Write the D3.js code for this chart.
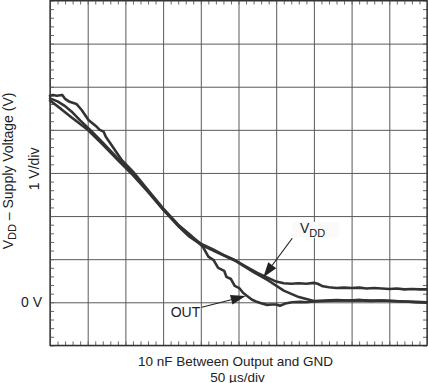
<!DOCTYPE html>
<html>
<head>
<meta charset="utf-8">
<script src="https://cdn.jsdelivr.net/npm/d3@7"></script>
<style>
  html, body { margin: 0; padding: 0; background: #fff; }
  svg { display: block; font-family: "Liberation Sans", Arial, sans-serif; }
</style>
</head>
<body>
<svg id="chart" width="428" height="383"></svg>
<script>
// ---- data (time in µs, voltage in V) ----
const xDomain = [0, 500];          // 10 div x 50 µs/div
const yDomain = [-1, 7];           // 8 div x 1 V/div
const xMajorTicks = [0, 50, 100, 150, 200, 250, 300, 350, 400, 450, 500];
const yMajorTicks = [-1, 0, 1, 2, 3, 4, 5, 6, 7];
const yTickLabels = [{ v: 0, text: "0 V" }];

// smooth trace that ramps to 0 V
const traceA_t = [0, 15, 30, 50, 70, 90, 110, 130, 150, 170, 185, 200, 220, 245, 270, 290, 310, 330, 350, 365, 380, 395, 410, 425, 440, 455, 470, 485, 500];
const traceA_v = [4.68, 4.48, 4.27, 4.00, 3.66, 3.30, 2.95, 2.56, 2.15, 1.77, 1.52, 1.34, 1.17, 0.97, 0.70, 0.50, 0.27, 0.12, 0.03, 0.04, 0.05, 0.04, 0.05, 0.04, 0.04, 0.03, 0.02, 0.01, 0.00];

// VDD trace
const vdd_t = [0, 10, 20, 30, 40, 55, 70, 90, 110, 130, 150, 170, 185, 200, 215, 230, 245, 260, 275, 290, 300, 310, 320, 330, 340, 350, 355, 362, 370, 380, 390, 400, 410, 420, 430, 440, 450, 460, 470, 480, 490, 500];
const vdd_v = [4.73, 4.66, 4.55, 4.40, 4.22, 3.97, 3.70, 3.33, 2.97, 2.58, 2.16, 1.78, 1.55, 1.36, 1.24, 1.10, 0.98, 0.83, 0.68, 0.56, 0.48, 0.44, 0.43, 0.44, 0.43, 0.45, 0.43, 0.37, 0.35, 0.33, 0.34, 0.33, 0.34, 0.32, 0.33, 0.32, 0.31, 0.32, 0.30, 0.31, 0.30, 0.30];

// OUT trace
const out_t = [0, 4, 9, 16, 20, 26, 35, 42, 51, 62, 66, 71, 74, 80, 95, 110, 130, 150, 170, 185, 195, 203, 210, 217, 223, 231, 234, 240, 245, 251, 256, 261, 268, 273, 281, 288, 294, 300, 305, 312, 321, 332, 340, 350, 365, 380, 395, 410, 425, 440, 455, 470, 485, 500];
const out_v = [4.79, 4.81, 4.79, 4.81, 4.72, 4.65, 4.60, 4.46, 4.23, 4.07, 4.00, 3.96, 3.84, 3.69, 3.30, 3.03, 2.60, 2.18, 1.80, 1.58, 1.42, 1.28, 1.06, 0.98, 0.80, 0.73, 0.59, 0.54, 0.38, 0.33, 0.22, 0.15, 0.06, 0.02, -0.03, -0.06, -0.05, -0.05, -0.08, -0.03, 0.00, 0.01, 0.00, 0.02, 0.03, 0.04, 0.04, 0.05, 0.03, 0.04, 0.03, 0.02, 0.00, -0.01];

// annotations (data units)
const annVDD = { label: "V", sub: "DD", t: 331.6, v: 1.60, from: [321.3, 1.485], to: [282.9, 0.58] };
const annOUT = { label: "OUT", t: 160.1, v: -0.34, from: [201.2, -0.116], to: [259.6, 0.146] };

const yTitleMain = "V", yTitleSub = "DD", yTitleRest = " – Supply Voltage (V)";
const yTitle2 = "1 V/div";
const xTitle1 = "10 nF Between Output and GND";
const xTitle2 = "50 µs/div";

// ---- layout ----
const svg = d3.select("#chart");
const L = 50, R = 427, T = 0.5, B = 345.4;
const x = d3.scaleLinear().domain(xDomain).range([L, R]);
const y = d3.scaleLinear().domain(yDomain).range([B, T]);

const minorX = d3.range(xDomain[0], xDomain[1] + 0.001, 10);
const minorY = d3.range(yDomain[0], yDomain[1] + 0.001, 0.2).map(d => +d.toFixed(2));

// gridlines
const gridColor = "#5a5a5a";
svg.append("g").attr("transform", `translate(0,${B})`)
  .call(d3.axisBottom(x).tickValues(xMajorTicks).tickSize(-(B - T)).tickFormat(""))
  .call(g => g.select(".domain").remove())
  .call(g => g.selectAll("line").attr("stroke", gridColor).attr("stroke-width", 1));
svg.append("g").attr("transform", `translate(${L},0)`)
  .call(d3.axisLeft(y).tickValues(yMajorTicks).tickSize(-(R - L)).tickFormat(""))
  .call(g => g.select(".domain").remove())
  .call(g => g.selectAll("line").attr("stroke", gridColor).attr("stroke-width", 1));

// minor ticks on all four sides (inward)
const tickColor = "#666", tl = 4;
function styleTicks(g) {
  g.select(".domain").remove();
  g.selectAll("line").attr("stroke", tickColor).attr("stroke-width", 1);
}
svg.append("g").attr("transform", `translate(0,${B})`)
  .call(d3.axisBottom(x).tickValues(minorX).tickSize(-tl).tickFormat("")).call(styleTicks);
svg.append("g").attr("transform", `translate(0,${T})`)
  .call(d3.axisTop(x).tickValues(minorX).tickSize(-tl).tickFormat("")).call(styleTicks);
svg.append("g").attr("transform", `translate(${L},0)`)
  .call(d3.axisLeft(y).tickValues(minorY).tickSize(-tl).tickFormat("")).call(styleTicks);
svg.append("g").attr("transform", `translate(${R},0)`)
  .call(d3.axisRight(y).tickValues(minorY).tickSize(-tl).tickFormat("")).call(styleTicks);

// frame
svg.append("rect").attr("x", L).attr("y", T).attr("width", R - L).attr("height", B - T)
  .attr("fill", "none").attr("stroke", "#333").attr("stroke-width", 1.3);

// y tick labels
svg.selectAll(".ylab").data(yTickLabels).join("text")
  .attr("x", L - 8).attr("y", d => y(d.v)).attr("dy", "0.36em")
  .attr("text-anchor", "end").attr("font-size", 14).attr("fill", "#222")
  .text(d => d.text);

// traces
const line = d3.line().x(d => x(d[0])).y(d => y(d[1]));
const traces = [
  d3.zip(traceA_t, traceA_v),
  d3.zip(vdd_t, vdd_v),
  d3.zip(out_t, out_v)
];
svg.append("g").selectAll("path").data(traces).join("path")
  .attr("d", line).attr("fill", "none").attr("stroke", "#333")
  .attr("stroke-width", 2.6).attr("stroke-linejoin", "round").attr("stroke-linecap", "round");

// arrows
function arrow(from, to) {
  const x1 = x(from[0]), y1 = y(from[1]), x2 = x(to[0]), y2 = y(to[1]);
  const ang = Math.atan2(y2 - y1, x2 - x1);
  const len = 15, hw = 5;
  const bx = x2 - len * Math.cos(ang), by = y2 - len * Math.sin(ang);
  svg.append("line").attr("x1", x1).attr("y1", y1).attr("x2", bx).attr("y2", by)
    .attr("stroke", "#222").attr("stroke-width", 1.2);
  const px = -Math.sin(ang) * hw, py = Math.cos(ang) * hw;
  svg.append("path")
    .attr("d", `M${x2},${y2}L${bx + px},${by + py}L${bx - px},${by - py}Z`)
    .attr("fill", "#222");
}

// VDD label with light box
const vx = x(annVDD.t), vy = y(annVDD.v);
svg.append("rect").attr("x", vx - 8).attr("y", vy - 11.5).attr("width", 47).attr("height", 16)
  .attr("fill", "#fafafa");
const vt = svg.append("text").attr("x", vx).attr("y", vy).attr("font-size", 14).attr("fill", "#222");
vt.append("tspan").text(annVDD.label);
vt.append("tspan").attr("font-size", 11).attr("dy", 3.4).text(annVDD.sub);
arrow(annVDD.from, annVDD.to);

svg.append("text").attr("x", x(annOUT.t)).attr("y", y(annOUT.v))
  .attr("font-size", 14).attr("fill", "#222").text(annOUT.label);
arrow(annOUT.from, annOUT.to);

// y-axis titles (rotated)
const yt = svg.append("text")
  .attr("transform", `translate(12.5,${(T + B) / 2 - 2}) rotate(-90)`)
  .attr("text-anchor", "middle").attr("font-size", 14).attr("fill", "#222");
yt.append("tspan").text(yTitleMain);
yt.append("tspan").attr("font-size", 11).attr("dy", 3.4).text(yTitleSub);
yt.append("tspan").attr("dy", -3.4).text(yTitleRest);

svg.append("text")
  .attr("transform", `translate(39,${(T + B) / 2 - 4}) rotate(-90)`)
  .attr("text-anchor", "middle").attr("font-size", 14).attr("fill", "#222")
  .text(yTitle2);

// x-axis titles
svg.append("text").attr("x", (L + R) / 2 - 3).attr("y", 365.5)
  .attr("text-anchor", "middle").attr("font-size", 13.5).attr("fill", "#222").text(xTitle1);
svg.append("text").attr("x", (L + R) / 2 - 1).attr("y", 381.5)
  .attr("text-anchor", "middle").attr("font-size", 13.5).attr("fill", "#222").text(xTitle2);
</script>
</body>
</html>
